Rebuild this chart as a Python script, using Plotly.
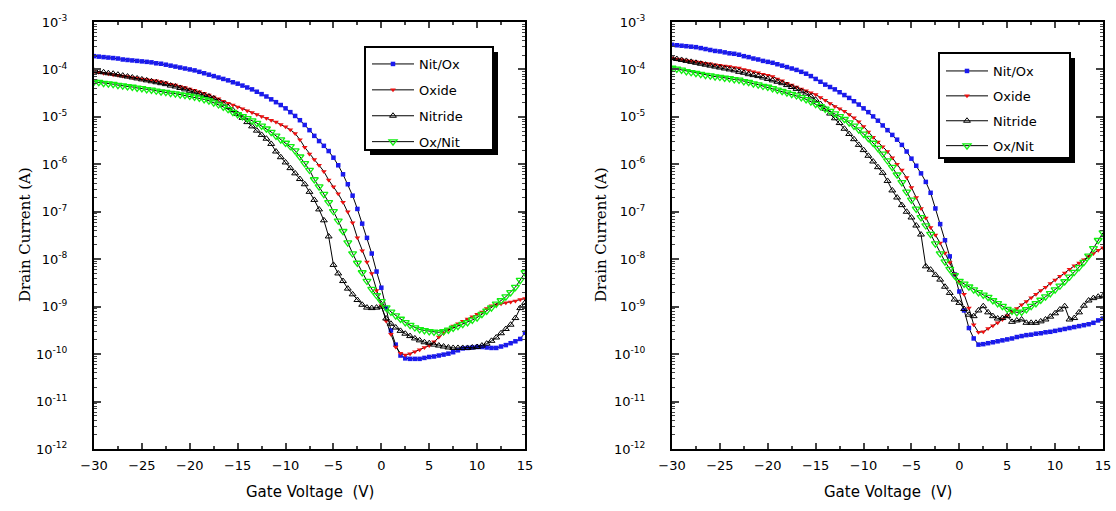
import plotly.graph_objects as go

# Gate voltage, 0.5 V steps from -30 to 15 V
gate_voltage = [-30 + 0.5 * i for i in range(91)]

# log10 of drain current (A) -- left panel
left_nitox = [
    -3.72, -3.73, -3.74, -3.75, -3.76, -3.77, -3.79, -3.80, -3.81, -3.82,
    -3.83, -3.84, -3.85, -3.87, -3.88, -3.90, -3.92, -3.94, -3.96, -3.98,
    -4.00, -4.02, -4.05, -4.08, -4.11, -4.14, -4.17, -4.20, -4.23, -4.27,
    -4.30, -4.34, -4.38, -4.42, -4.47, -4.52, -4.57, -4.63, -4.69, -4.75,
    -4.82, -4.90, -4.98, -5.07, -5.17, -5.28, -5.40, -5.51, -5.61, -5.72,
    -5.86, -6.02, -6.21, -6.42, -6.66, -6.94, -7.25, -7.55, -7.88, -8.26,
    -8.60, -9.03, -9.50, -9.80, -10.03, -10.09, -10.10, -10.10, -10.10, -10.08,
    -10.06, -10.05, -10.03, -10.01, -9.99, -9.96, -9.92, -9.88, -9.87, -9.86,
    -9.85, -9.85, -9.86, -9.87, -9.87, -9.84, -9.81, -9.77, -9.73, -9.68,
    -9.55]
left_oxide = [
    -4.05, -4.06, -4.08, -4.09, -4.11, -4.12, -4.14, -4.15, -4.17, -4.18,
    -4.20, -4.21, -4.23, -4.24, -4.26, -4.28, -4.31, -4.33, -4.36, -4.38,
    -4.41, -4.44, -4.47, -4.50, -4.54, -4.58, -4.62, -4.67, -4.71, -4.75,
    -4.79, -4.83, -4.87, -4.91, -4.95, -4.99, -5.03, -5.07, -5.11, -5.16,
    -5.21, -5.27, -5.35, -5.48, -5.64, -5.78, -5.90, -6.02, -6.15, -6.33,
    -6.47, -6.62, -6.80, -7.00, -7.23, -7.55, -7.82, -8.06, -8.30, -8.66,
    -8.98, -9.30, -9.58, -9.85, -9.98, -10.02, -9.99, -9.95, -9.91, -9.86,
    -9.82, -9.74, -9.64, -9.56, -9.48, -9.41, -9.36, -9.31, -9.26, -9.21,
    -9.16, -9.11, -9.04, -8.98, -8.96, -8.94, -8.92, -8.90, -8.88, -8.85,
    -8.83]
left_nitride = [
    -4.03, -4.05, -4.06, -4.08, -4.09, -4.11, -4.13, -4.15, -4.17, -4.19,
    -4.21, -4.23, -4.25, -4.27, -4.29, -4.31, -4.34, -4.36, -4.39, -4.42,
    -4.45, -4.48, -4.51, -4.54, -4.57, -4.61, -4.67, -4.73, -4.79, -4.86,
    -4.94, -5.02, -5.11, -5.20, -5.29, -5.38, -5.46, -5.57, -5.73, -5.85,
    -5.96, -6.08, -6.19, -6.31, -6.42, -6.58, -6.75, -6.95, -7.18, -7.52,
    -8.12, -8.30, -8.46, -8.62, -8.74, -8.86, -8.96, -9.02, -9.03, -9.02,
    -9.00, -9.25, -9.36, -9.44, -9.51, -9.57, -9.62, -9.67, -9.71, -9.75,
    -9.77, -9.80, -9.82, -9.84, -9.86, -9.87, -9.87, -9.87, -9.87, -9.86,
    -9.85, -9.82, -9.78, -9.72, -9.65, -9.56, -9.47, -9.38, -9.24, -9.03,
    -8.92]
left_oxnit = [
    -4.26, -4.27, -4.29, -4.30, -4.31, -4.33, -4.34, -4.36, -4.37, -4.39,
    -4.40, -4.42, -4.43, -4.45, -4.47, -4.48, -4.50, -4.51, -4.53, -4.54,
    -4.56, -4.58, -4.60, -4.63, -4.66, -4.70, -4.74, -4.79, -4.84, -4.90,
    -4.95, -4.99, -5.03, -5.08, -5.13, -5.19, -5.25, -5.32, -5.40, -5.48,
    -5.55, -5.62, -5.71, -5.84, -5.98, -6.12, -6.32, -6.47, -6.63, -6.80,
    -6.99, -7.19, -7.41, -7.65, -7.88, -8.08, -8.28, -8.46, -8.63, -8.76,
    -8.89, -9.02, -9.11, -9.19, -9.26, -9.33, -9.39, -9.44, -9.48, -9.50,
    -9.52, -9.53, -9.54, -9.52, -9.49, -9.45, -9.41, -9.37, -9.33, -9.28,
    -9.23, -9.16, -9.09, -9.02, -8.94, -8.87, -8.79, -8.70, -8.59, -8.44,
    -8.28]

# log10 of drain current (A) -- right panel
right_nitox = [
    -3.48, -3.49, -3.50, -3.51, -3.52, -3.53, -3.55, -3.57, -3.59, -3.61,
    -3.62, -3.64, -3.66, -3.67, -3.69, -3.72, -3.74, -3.77, -3.79, -3.82,
    -3.84, -3.86, -3.89, -3.92, -3.95, -3.98, -4.01, -4.05, -4.09, -4.14,
    -4.20, -4.26, -4.32, -4.37, -4.42, -4.48, -4.54, -4.60, -4.67, -4.74,
    -4.82, -4.90, -4.99, -5.08, -5.18, -5.28, -5.38, -5.48, -5.59, -5.73,
    -5.88, -6.03, -6.19, -6.37, -6.60, -6.93, -7.26, -7.60, -7.94, -8.32,
    -8.68, -9.08, -9.45, -9.67, -9.80, -9.79, -9.77, -9.75, -9.73, -9.71,
    -9.69, -9.67, -9.64, -9.62, -9.60, -9.59, -9.57, -9.56, -9.54, -9.53,
    -9.51, -9.49, -9.47, -9.45, -9.43, -9.41, -9.39, -9.37, -9.34, -9.29,
    -9.25]
right_oxide = [
    -3.76, -3.78, -3.79, -3.81, -3.82, -3.84, -3.85, -3.87, -3.88, -3.90,
    -3.91, -3.93, -3.94, -3.96, -3.97, -4.00, -4.02, -4.05, -4.07, -4.10,
    -4.12, -4.15, -4.20, -4.24, -4.29, -4.33, -4.37, -4.41, -4.45, -4.49,
    -4.53, -4.59, -4.65, -4.72, -4.78, -4.83, -4.88, -4.95, -5.02, -5.10,
    -5.20, -5.32, -5.43, -5.53, -5.63, -5.73, -5.86, -6.00, -6.12, -6.28,
    -6.49, -6.70, -6.93, -7.13, -7.33, -7.49, -7.66, -7.87, -8.07, -8.31,
    -8.48, -8.74, -9.03, -9.38, -9.54, -9.53, -9.46, -9.40, -9.34, -9.27,
    -9.19, -9.11, -9.04, -8.96, -8.89, -8.81, -8.74, -8.66, -8.59, -8.51,
    -8.44, -8.36, -8.29, -8.21, -8.14, -8.08, -8.01, -7.94, -7.88, -7.81,
    -7.76]
right_nitride = [
    -3.76, -3.78, -3.80, -3.82, -3.84, -3.86, -3.88, -3.90, -3.92, -3.94,
    -3.96, -3.98, -4.00, -4.02, -4.05, -4.07, -4.10, -4.12, -4.14, -4.17,
    -4.20, -4.23, -4.26, -4.29, -4.33, -4.37, -4.41, -4.46, -4.51, -4.57,
    -4.64, -4.73, -4.83, -4.93, -5.03, -5.13, -5.25, -5.36, -5.47, -5.59,
    -5.70, -5.82, -5.94, -6.06, -6.18, -6.35, -6.55, -6.70, -6.86, -7.00,
    -7.12, -7.29, -7.48, -8.15, -8.22, -8.33, -8.43, -8.58, -8.71, -8.85,
    -8.92, -9.05, -9.17, -9.20, -9.08, -8.99, -9.12, -9.20, -9.25, -9.24,
    -9.20, -9.32, -9.29, -9.27, -9.34, -9.34, -9.34, -9.31, -9.27, -9.21,
    -9.14, -9.06, -8.99, -9.27, -9.24, -9.12, -8.98, -8.87, -8.82, -8.79,
    -8.78]
right_oxnit = [
    -3.97, -3.99, -4.01, -4.04, -4.06, -4.08, -4.10, -4.12, -4.13, -4.15,
    -4.16, -4.18, -4.19, -4.21, -4.22, -4.25, -4.27, -4.30, -4.32, -4.35,
    -4.37, -4.40, -4.43, -4.46, -4.49, -4.52, -4.55, -4.59, -4.63, -4.68,
    -4.73, -4.78, -4.83, -4.88, -4.93, -4.99, -5.05, -5.12, -5.19, -5.27,
    -5.36, -5.45, -5.55, -5.66, -5.78, -5.92, -6.06, -6.22, -6.38, -6.58,
    -6.75, -6.94, -7.12, -7.29, -7.47, -7.67, -7.88, -8.05, -8.21, -8.34,
    -8.46, -8.52, -8.58, -8.64, -8.70, -8.75, -8.80, -8.87, -8.93, -8.99,
    -9.05, -9.09, -9.12, -9.11, -9.06, -8.99, -8.93, -8.86, -8.79, -8.72,
    -8.64, -8.56, -8.47, -8.37, -8.27, -8.17, -8.06, -7.93, -7.77, -7.60,
    -7.44]

series_names = ["Nit/Ox", "Oxide", "Nitride", "Ox/Nit"]
y_exponents = list(range(-12, -2))
x_ticks = [-30, -25, -20, -15, -10, -5, 0, 5, 10, 15]

W, H = 1116, 511
def px(x):
    return x / W
def py(y):
    return 1 - y / H

styles = [
    dict(symbol="square", color="#1a1aee", size=4.5, line=dict(width=0)),
    dict(symbol="triangle-down", color="#ee1111", size=5, line=dict(width=0)),
    dict(symbol="triangle-up-open", color="black", size=6, line=dict(width=1, color="black")),
    dict(symbol="triangle-down-open", color="#11ee11", size=7, line=dict(width=1.3, color="#11ee11")),
]

fig = go.Figure()
panels = [
    ([left_nitox, left_oxide, left_nitride, left_oxnit], "x", "y", "legend", "L"),
    ([right_nitox, right_oxide, right_nitride, right_oxnit], "x2", "y2", "legend2", "R"),
]
for data, xa, ya, lg, tag in panels:
    for name, vals, st in zip(series_names, data, styles):
        fig.add_trace(go.Scatter(
            x=gate_voltage, y=[10 ** v for v in vals], name=name,
            mode="lines+markers", xaxis=xa, yaxis=ya, legend=lg,
            legendgroup=tag + name,
            line=dict(color="black", width=1),
            marker=st,
        ))

sans = "DejaVu Sans, Verdana, sans-serif"
tick_font = dict(family=sans, size=13, color="black")
xdef = dict(range=[-30, 15], tickvals=x_ticks, ticks="inside", ticklen=6, tickwidth=2,
            showline=True, linewidth=2, linecolor="black", mirror="ticks",
            showgrid=False, zeroline=False, tickfont=tick_font, ticklabelstandoff=3,
            automargin=False,
            minor=dict(ticks="inside", ticklen=3, tickwidth=1.5, dtick=2.5, tick0=-30, showgrid=False))
ydef = dict(type="log", range=[-12, -3], tickvals=[10 ** e for e in y_exponents],
            ticktext=["10<sup>%d</sup>" % e for e in y_exponents],
            ticks="inside", ticklen=7, tickwidth=2,
            showline=True, linewidth=2, linecolor="black", mirror="ticks",
            showgrid=False, zeroline=False, tickfont=tick_font, ticklabelstandoff=22,
            automargin=False,
            minor=dict(ticks="inside", ticklen=3, tickwidth=1, dtick="D1", showgrid=False))

legend_font = dict(family=sans, size=13, color="black")
ydom = [py(449), py(22)]
fig.update_layout(
    width=W, height=H, margin=dict(l=0, r=0, t=0, b=0, autoexpand=False),
    paper_bgcolor="white", plot_bgcolor="white",
    xaxis=dict(domain=[px(94), px(525)], anchor="y", **xdef),
    yaxis=dict(domain=ydom, anchor="x", **ydef),
    xaxis2=dict(domain=[px(672), px(1103)], anchor="y2", **xdef),
    yaxis2=dict(domain=ydom, anchor="x2", **ydef),
    legend=dict(x=px(367), y=py(49), xanchor="left", yanchor="top",
                bgcolor="rgba(0,0,0,0)", borderwidth=0,
                font=legend_font, itemwidth=42, tracegroupgap=6),
    legend2=dict(x=px(941), y=py(56), xanchor="left", yanchor="top",
                 bgcolor="rgba(0,0,0,0)", borderwidth=0,
                 font=legend_font, itemwidth=42, tracegroupgap=5),
    showlegend=True,
)

# legend boxes with drop shadows
for x0, y0, x1, y1 in [(365, 47, 493, 150), (939, 53, 1070, 158)]:
    fig.add_shape(type="rect", xref="paper", yref="paper",
                  x0=px(x0 + 5), x1=px(x1 + 5), y0=py(y1 + 5), y1=py(y0 + 5),
                  fillcolor="black", line=dict(width=0), layer="above")
    fig.add_shape(type="rect", xref="paper", yref="paper",
                  x0=px(x0), x1=px(x1), y0=py(y1), y1=py(y0),
                  fillcolor="white", line=dict(width=2, color="black"), layer="above")

# axis titles
for cx in [(94 + 525) / 2, (672 + 1103) / 2]:
    fig.add_annotation(x=px(cx), y=py(492), xref="paper", yref="paper",
                       xanchor="center", yanchor="middle",
                       text="Gate Voltage  (V)", showarrow=False,
                       font=dict(family=sans, size=15, color="black"))
for cx in [25, 601]:
    fig.add_annotation(x=px(cx), y=py(235), xref="paper", yref="paper",
                       xanchor="center", yanchor="middle",
                       text="Drain Current (A)", showarrow=False, textangle=-90,
                       font=dict(family="DejaVu Serif, Liberation Serif, serif", size=15, color="black"))

# remove the default page margin so the figure fills the window exactly
fig.write_html("out.html", config={"displayModeBar": False},
               post_script="document.body.style.margin='0px';document.body.style.padding='0px';")
